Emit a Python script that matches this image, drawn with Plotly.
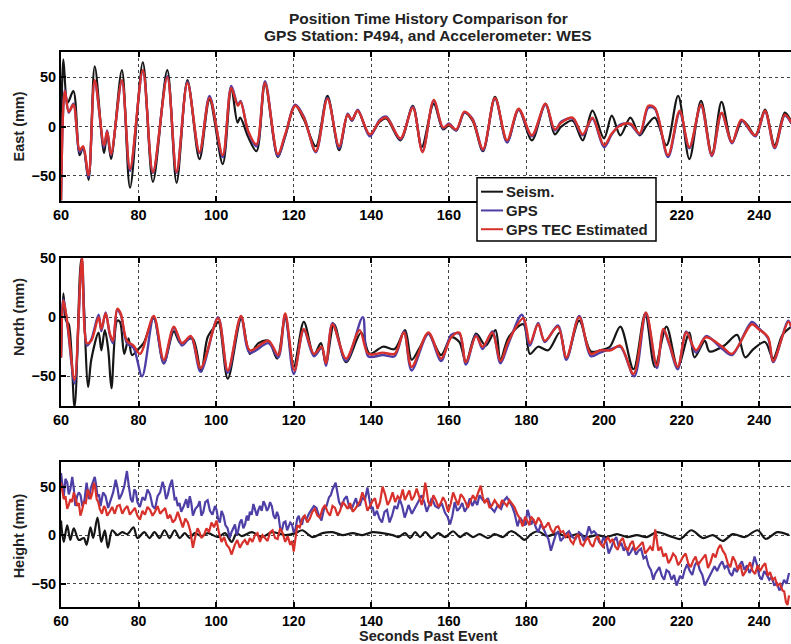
import plotly.graph_objects as go

# ---------------- East component (mm) ----------------
east_seism_t = [60.0, 60.6, 61.7, 63.2, 64.8, 65.7, 67.1, 68.7, 71.1, 71.9, 72.9, 75.7, 77.8, 81.1, 83.7,
                87.4, 89.8, 92.6, 95.7, 98.3, 101.7, 103.9, 105.5, 106.2, 108.3, 110.4, 112.6, 115.9, 117.8,
                120.4, 122.6, 125.7, 128.7, 131.7, 133.9, 135.0, 136.5, 139.6, 142.2, 143.9, 147.5, 150.7,
                153.0, 156.1, 158.5, 160.0, 161.9, 164.0, 166.1, 168.8, 171.9, 175.0, 178.0, 181.4, 184.9,
                187.3, 189.0, 191.9, 194.5, 197.0, 200.0, 202.0, 204.2, 206.8, 209.2, 211.0, 213.1, 216.1,
                219.1, 222.0, 225.0, 227.8, 230.3, 233.0, 235.6, 236.9, 239.0, 241.5, 244.0, 246.6, 248.3]
east_seism_v = [-75, 68, 24, 36, -29, -21, -54, 61, -27, -6, -33, 57, -62, 65, -56,
                57, -57, 47, -33, 27, -38, 39, 4, 9, -11, -25, 43, -31, -10,
                21, 7, -20, 31, -24, 12, 6, 16, -9, 5, 8, -14, 21,
                -21, 23, -3, 1, -4, 14, 6, -25, 30, -16, 17, -14, 23,
                -8, 0, 6, -14, 16, -12, 11, -9, 9, -9, 1, 9, -19,
                31, -33, 26, -28, 25, -16, 6, 2, -9, 17, -19, 14, 5]

east_tec_t = [60.0, 61.0, 62.0, 63.2, 64.8, 65.7, 67.1, 68.7, 71.1, 71.9, 72.9, 75.7, 77.8, 81.1, 83.7,
              87.4, 89.8, 92.6, 95.7, 98.3, 101.7, 103.9, 105.6, 106.3, 108.3, 110.4, 112.6, 115.9, 117.8,
              120.4, 122.6, 125.7, 128.7, 131.7, 133.9, 135.0, 136.5, 139.6, 142.2, 143.9, 147.5, 150.7,
              153.2, 156.1, 158.5, 160.0, 161.9, 164.0, 166.1, 168.8, 171.9, 175.0, 178.0, 181.4, 184.9,
              187.3, 189.0, 191.9, 194.5, 197.0, 200.0, 202.0, 204.2, 206.8, 209.2, 211.4, 213.1, 216.5,
              219.5, 222.0, 225.0, 227.8, 230.3, 233.0, 235.4, 239.0, 241.5, 244.0, 246.6, 248.3]
east_tec_v = [-75, 36, 15, 22, -24, -20, -49, 47, -19, -5, -28, 47, -43, 57, -46,
              50, -46, 44, -26, 29, -29, 39, 21, 25, -5, -18, 44, -28, -8,
              21, 9, -25, 28, -20, 12, 7, 16, -8, 6, 9, -12, 19,
              -26, 27, -1, 2, -3, 15, 7, -23, 29, -14, 18, -9, 23,
              -3, 4, 9, -8, 9, -19, -7, 1, 3, -7, 21, 19, -29,
              16, -21, 22, -29, 14, -16, 7, -9, 16, -21, 12, 4]

east_gps_t = [60.0, 61.0, 62.0, 63.2, 64.8, 65.7, 67.1, 68.7, 71.1, 71.9, 72.9, 75.7, 77.8, 81.1, 83.7,
              87.4, 89.8, 92.6, 95.7, 98.3, 101.7, 103.9, 105.6, 106.3, 108.3, 110.4, 112.6, 115.9, 117.8,
              120.4, 122.6, 125.7, 128.7, 131.7, 133.9, 135.0, 136.5, 139.6, 142.2, 143.9, 147.5, 150.7,
              153.2, 156.1, 158.5, 160.0, 161.9, 164.0, 166.1, 168.8, 171.9, 175.0, 178.0, 181.4, 184.9,
              187.3, 189.0, 191.9, 194.5, 197.0, 200.0, 202.0, 204.2, 206.8, 209.2, 211.4, 213.1, 216.5,
              219.5, 222.0, 225.0, 227.8, 230.3, 233.0, 235.4, 239.0, 241.5, 244.0, 246.6, 248.3]
east_gps_v = [-75, 37, 14, 23, -26, -21, -51, 46, -21, -4, -29, 46, -45, 56, -47,
              51, -47, 45, -27, 31, -31, 41, 22, 26, -6, -20, 46, -30, -9,
              22, 10, -26, 29, -22, 13, 6, 17, -10, 7, 10, -13, 20,
              -25, 26, -2, 3, -4, 14, 8, -24, 28, -16, 17, -10, 22,
              -4, 5, 8, -9, 8, -21, -8, 2, 2, -8, 19, 18, -31,
              14, -22, 21, -30, 13, -17, 6, -10, 15, -22, 11, 3]

# ---------------- North component (mm) ----------------
north_seism_t = [60.0, 60.6, 61.3, 62.0, 63.5, 65.2, 67.0, 67.8, 69.7, 70.4, 71.3, 72.2, 73.0, 74.5, 75.2,
                 76.3, 77.4, 78.3, 79.6, 81.3, 83.9, 86.5, 89.1, 90.8, 93.9, 96.1, 97.8, 99.6, 100.6,
                 103.0, 106.5, 108.7, 110.9, 113.5, 115.7, 117.8, 120.0, 122.6, 125.2, 127.0, 128.3,
                 130.4, 133.5, 137.4, 139.6, 143.0, 146.0, 148.7, 150.4, 152.6, 154.7, 158.0, 160.6,
                 162.7, 164.4, 167.0, 169.5, 172.0, 173.3, 175.4, 179.2, 180.9, 183.0, 185.6, 188.6,
                 190.3, 193.6, 196.6, 199.0, 201.5, 204.2, 207.6, 210.6, 213.1, 216.1, 219.0, 222.0,
                 223.3, 226.0, 227.2, 231.0, 234.3, 236.4, 238.5, 241.5, 243.6, 246.0, 248.3]
north_seism_v = [-34, 20, -3, -6, -76, 49, -59, -36, -13, -28, -11, -28, -60, -3, -4,
                 -31, -18, -32, -28, -22, -1, -39, -12, -22, -18, -46, -17, -8, -4,
                 -52, -1, -31, -22, -20, -35, -1, -42, -4, -32, -22, -39,
                 -6, -38, -13, -31, -25, -27, -11, -36, -25, -14, -32, -17,
                 -21, -38, -14, -24, -11, -36, -17, -6, -31, -25, -28, -13,
                 -35, -3, -29, -28, -25, -8, -44, 3, -42, -8, -42, -13,
                 -34, -20, -29, -24, -15, -34, -27, -21, -35, -15, -8]

north_tec_t = [60.0, 60.6, 61.7, 63.5, 65.4, 66.7, 67.8, 69.7, 70.4, 71.5, 72.6, 73.4, 74.5, 75.4, 77.0,
               78.7, 80.4, 83.9, 86.5, 89.1, 91.2, 93.5, 96.0, 100.5, 103.0, 106.4, 108.7, 113.5, 116.0,
               117.8, 120.2, 122.6, 125.2, 127.2, 128.3, 130.0, 133.5, 137.0, 139.2, 143.0, 146.0, 148.4,
               150.4, 154.7, 158.0, 160.6, 162.7, 164.4, 167.0, 168.7, 171.2, 173.3, 175.4, 179.2, 180.9,
               183.0, 184.7, 188.1, 190.3, 193.6, 196.6, 199.0, 201.7, 204.2, 207.6, 210.8, 213.6, 215.3,
               216.8, 219.0, 221.2, 223.7, 226.3, 230.5, 233.0, 238.1, 239.8, 242.3, 243.6, 247.5, 248.3]
north_tec_v = [-34, 14, -6, -53, 50, -22, -20, 0, -10, 3, -14, -20, 7, 3, -20,
               -24, -31, 1, -36, -8, -22, -16, -43, -1, -45, 1, -28, -20, -32,
               3, -45, -10, -31, -25, -39, -6, -35, -11, -31, -30, -31, -13,
               -42, -13, -35, -17, -13, -38, -16, -25, -13, -37, -20, -1, -22,
               -6, -20, -8, -34, 0, -31, -28, -28, -24, -48, 4, -41, -10,
               -22, -42, -13, -28, -17, -25, -31, -6, -10, -17, -37, -4, -8]

north_gps_t = [60.0, 60.6, 61.7, 63.5, 65.4, 66.7, 67.8, 69.7, 70.4, 71.5, 72.6, 73.4, 74.5, 75.4, 77.0,
               78.7, 80.9, 83.9, 86.5, 89.1, 91.2, 93.5, 96.0, 100.5, 103.0, 106.4, 108.7, 113.5, 116.0,
               117.8, 120.0, 122.6, 125.2, 127.2, 128.3, 130.0, 133.5, 137.8, 139.2, 143.0, 146.0, 148.4,
               150.4, 154.7, 158.0, 160.6, 162.7, 164.4, 167.0, 168.7, 171.2, 173.3, 175.4, 178.8, 180.9,
               183.0, 184.7, 188.1, 190.3, 193.6, 196.6, 199.0, 201.7, 204.2, 207.8, 210.8, 213.6, 215.3,
               216.8, 219.0, 221.2, 223.7, 226.3, 230.5, 233.0, 238.1, 239.8, 242.3, 243.6, 247.5, 248.3]
north_gps_v = [-34, 15, -8, -56, 48, -24, -19, 2, -12, 4, -15, -22, 6, 2, -22,
               -26, -50, 0, -39, -9, -24, -17, -46, 0, -47, 0, -30, -22, -34,
               2, -48, -11, -33, -26, -41, -5, -37, 0, -33, -32, -33, -12,
               -45, -14, -37, -15, -14, -40, -15, -27, -12, -39, -22, 2, -24,
               -5, -21, -7, -36, 1, -33, -30, -27, -25, -50, 3, -43, -11,
               -23, -44, -12, -30, -16, -27, -32, -4, -9, -18, -38, -3, -9]

# ---------------- Height component (mm) ----------------
height_seism_t = [60.0, 60.7, 61.6, 62.4, 63.3, 64.6, 65.9, 66.6, 67.6, 68.3, 69.4, 70.4, 71.3, 72.1,
                  73.2, 74.5, 75.8, 77.1, 78.7, 79.7, 81.5, 82.8, 84.1, 85.4, 86.7, 88.0, 89.3, 90.6,
                  91.9, 93.2, 94.5, 96.2, 97.9, 100.5, 102.3, 104.0, 105.3, 106.6, 109.2, 111.8, 114.4,
                  117.8, 120.4, 122.2, 124.8, 127.4, 130.0, 132.6, 135.2, 137.7, 140.3, 142.9, 145.5,
                  147.0, 148.7, 150.0, 151.3, 152.6, 153.9, 155.6, 157.3, 159.0, 161.1, 162.8, 164.5,
                  166.2, 167.9, 170.1, 171.8, 173.9, 176.0, 178.2, 179.5, 181.2, 182.9, 185.4, 188.0,
                  190.5, 193.1, 195.7, 198.2, 200.8, 203.3, 205.9, 208.5, 211.0, 213.6, 217.0, 219.6,
                  222.5, 225.5, 228.1, 230.6, 233.2, 236.2, 239.6, 241.7, 244.7, 247.7]
height_seism_v = [15, -7, 10, -5, 7, -5, -3, -10, 8, -3, 18, -7, 5, -13,
                  5, 0, 3, 1, 8, -3, 3, -3, 3, -3, 5, -3, 5, -3,
                  2, -3, 2, -1, 2, -2, 2, -7, 2, -1, 3, -2, 3,
                  0, 2, 5, -2, 2, 3, 0, 2, 0, 3, 2, 0,
                  -2, 2, -3, 3, -2, 3, -3, 2, -2, 4, -2, 2,
                  -2, 1, -3, 1, -2, 4, -1, -5, 1, 4, -1, 2,
                  -2, 1, -2, 0, -2, 1, -2, 0, -2, 3, -1, -4,
                  5, -3, 0, -6, 1, -2, 5, -4, 3, 0]

height_gps_t = [60.0, 60.7, 61.6, 62.4, 62.9, 63.7, 64.6, 65.5, 66.6, 67.2, 68.1, 68.7, 69.4, 70.2, 71.5,
                72.8, 74.1, 75.0, 76.3, 77.0, 78.0, 78.9, 79.7, 81.0, 82.3, 83.6, 84.9, 86.2, 87.1, 88.0,
                88.6, 89.3, 90.1, 91.0, 92.3, 93.2, 94.0, 95.3, 96.2, 97.2, 98.4, 99.7, 100.5, 101.4,
                102.4, 103.5, 104.4, 105.3, 106.1, 107.0, 107.9, 108.7, 109.6, 110.5, 111.3, 112.2, 113.1,
                113.9, 114.8, 115.7, 116.5, 117.4, 118.3, 119.1, 120.0, 120.9, 121.7, 122.6, 123.9, 125.2,
                126.5, 127.8, 129.1, 130.0, 130.8, 131.7, 133.0, 134.3, 135.6, 136.5, 137.7, 139.0, 139.9,
                140.8, 142.1, 143.4, 144.7, 146.0, 147.3, 148.6, 149.6, 151.3, 153.0, 154.3, 155.6, 157.3,
                159.0, 160.3, 161.5, 162.8, 164.1, 165.4, 166.7, 167.9, 169.2, 170.9, 172.6, 174.3, 175.6,
                176.9, 177.7, 179.0, 180.3, 181.2, 182.4, 183.7, 185.0, 186.3, 187.6, 188.8, 190.1, 191.8,
                193.5, 194.8, 196.1, 197.4, 198.7, 199.9, 201.2, 202.5, 203.8, 205.1, 206.3, 207.6, 208.9,
                210.2, 211.5, 212.7, 213.6, 214.9, 216.1, 217.4, 218.7, 219.6, 220.8, 222.1, 223.4, 224.7,
                226.0, 227.2, 228.5, 229.8, 231.1, 232.4, 233.6, 234.9, 236.2, 237.5, 238.8, 240.0, 241.3,
                242.6, 243.9, 245.2, 246.4, 247.7]
height_gps_v = [64, 40, 54, 47, 60, 30, 44, 30, 54, 37, 54, 60, 40, 30, 40,
                35, 57, 37, 50, 66, 37, 47, 34, 39, 47, 30, 40, 55, 37, 50,
                57, 37, 30, 24, 37, 40, 20, 30, 20, 34, 25, 30, 17, 25,
                10, -3, 7, 0, 13, 7, 20, 24, 32, 20, 30, 35, 25,
                34, 20, 24, 7, 13, 5, 13, 3, 17, 13, 20, 22, 30,
                20, 27, 39, 47, 54, 34, 37, 29, 34, 30, 39, 49, 27,
                20, 17, 24, 13, 30, 37, 18, 31, 28, 41, 24, 38, 28,
                23, 11, 34, 28, 24, 38, 36, 41, 34, 28, 31, 36, 34,
                23, 9, 14, 26, 11, 8, 11, 1, -16, 1, -6, 1, -2,
                3, -6, 9, 4, -7, -2, -19, -6, -12, -16, -21, -12, -16,
                -24, -32, -46, -37, -42, -36, -46, -52, -42, -36, -37, -31, -36,
                -52, -42, -32, -31, -34, -39, -34, -31, -36, -39, -22, -42, -37,
                -46, -52, -57, -46, -39]
# short-period scatter between the samples above
height_gps_fine_t = [60.35, 61.15, 62.0, 63.3, 64.15, 65.05, 66.05, 67.65, 69.05, 69.8, 70.85, 72.15, 73.45,
                     74.55, 75.65, 77.5, 78.45, 79.3, 80.35, 81.65, 82.95, 84.25, 85.55, 86.65, 87.55, 88.95,
                     89.7, 90.55, 91.65, 92.75, 93.6, 94.65, 95.75, 96.7, 97.8, 99.05, 100.1, 100.95, 101.9,
                     102.95, 103.95, 104.85, 105.7, 106.55, 107.45, 108.3, 109.15, 110.05, 110.9, 111.75,
                     112.65, 113.5, 114.35, 115.25, 116.1, 116.95, 117.85, 118.7, 119.55, 120.45, 121.3,
                     122.15, 123.25, 124.55, 125.85, 127.15, 128.45, 129.55, 131.25, 132.35, 133.65, 134.95,
                     136.05, 137.1, 138.35, 139.45, 140.35, 141.45, 142.75, 144.05, 145.35, 146.65, 147.95,
                     149.1, 150.45, 152.15, 153.65, 154.95, 156.45, 158.15, 159.65, 160.9, 162.15, 163.45,
                     164.75, 166.05, 167.3, 168.55, 170.05, 171.75, 173.45, 174.95, 176.25, 178.35, 179.65,
                     180.75, 181.8, 183.05, 184.35, 185.65, 186.95, 188.2, 189.45, 190.95, 192.65, 194.15,
                     195.45, 196.75, 198.05, 199.3, 200.55, 201.85, 203.15, 204.45, 205.7, 206.95, 208.25,
                     209.55, 210.85, 212.1, 213.15, 214.25, 215.5, 216.75, 218.05, 219.15, 220.2, 221.45,
                     222.75, 224.05, 225.35, 226.6, 227.85, 229.15, 230.45, 231.75, 233.0, 234.25, 235.55,
                     236.85, 238.15, 239.4, 240.65, 241.95, 243.25, 244.55, 245.8, 247.05]
height_gps_fine_v = [48, 58, 42, 48, 40, 41, 36, 48, 52, 42, 44, 28, 44,
                     49, 42, 50, 34, 45, 29, 36, 42, 27, 44, 48, 42, 46,
                     38, 33, 30, 28, 33, 27, 35, 24, 36, 21, 26, 13, 20,
                     7, 3, 11, 5, 16, 11, 15, 21, 27, 26, 25,
                     31, 28, 30, 17, 19, 5, 14, 9, 11, 6, 20,
                     11, 16, 26, 28, 15, 30, 41, 44, 29, 40, 27,
                     38, 31, 36, 40, 29, 25, 13, 26, 20, 27, 30,
                     24, 22, 35, 34, 31, 30, 33, 19, 20, 25, 33,
                     29, 30, 31, 37, 38, 24, 27, 39, 30, 18, 10,
                     20, 16, 3, 7, -4, -8, 4, -3, 4, -4, 1,
                     -1, 2, 1, -9, -6, -13, -2, -8, -12, -17, -20,
                     -14, -22, -36, -40, -33, -46, -38, -41, -47, -45, -30,
                     -41, -27, -41, -47, -38, -37, -27, -31, -42, -38, -27,
                     -31, -34, -30, -46, -41, -43, -49, -53, -50]

height_tec_t = [60.0, 60.7, 61.6, 62.4, 63.3, 64.2, 65.0, 65.9, 66.9, 67.6, 68.5, 69.2, 70.0, 71.1, 71.9,
                73.2, 74.5, 75.8, 77.1, 78.4, 79.7, 81.0, 82.3, 83.6, 84.9, 86.2, 87.5, 88.8, 90.1, 91.4,
                92.7, 94.0, 95.2, 96.2, 97.5, 98.8, 100.1, 101.4, 102.7, 104.0, 104.8, 106.1, 107.4,
                108.7, 110.0, 111.3, 112.6, 113.9, 115.2, 116.5, 117.8, 119.1, 120.0, 120.9, 122.2, 123.5,
                124.8, 126.1, 127.4, 128.7, 130.0, 131.3, 132.6, 133.9, 135.2, 136.5, 137.7, 139.0, 140.3,
                141.6, 142.9, 144.2, 145.5, 146.8, 148.1, 149.2, 150.4, 151.7, 153.0, 153.9, 154.7, 156.0,
                157.3, 158.5, 159.8, 161.1, 162.4, 163.7, 164.9, 166.2, 167.5, 168.2, 169.2, 170.5, 171.8,
                173.1, 174.3, 175.6, 176.9, 177.7, 179.0, 180.3, 181.2, 182.4, 183.7, 185.0, 186.3, 187.6,
                188.8, 190.1, 191.4, 192.7, 194.0, 195.2, 196.5, 197.8, 199.1, 200.4, 201.6, 202.9, 204.2,
                205.5, 206.8, 208.0, 209.3, 210.6, 211.9, 213.2, 214.0, 215.3, 216.6, 217.8, 219.1, 220.4,
                221.7, 223.0, 224.2, 225.5, 226.8, 228.1, 229.4, 230.6, 231.9, 233.2, 234.5, 235.8, 237.0,
                238.3, 239.6, 240.9, 242.2, 243.4, 244.7, 246.0, 246.9, 247.7]
height_tec_v = [54, 37, 27, 37, 44, 30, 20, 34, 47, 37, 54, 37, 27, 30, 20,
                29, 30, 22, 30, 25, 20, 25, 29, 20, 30, 25, 17, 13, 24, 8,
                13, -13, 7, -3, 7, 13, 15, -7, -10, -20, -10, -13, -5,
                -3, 0, -7, -3, 3, -3, 7, -7, -10, -17, 10, 17, 13,
                24, 20, 27, 24, 30, 20, 34, 27, 24, 32, 44, 25, 35,
                27, 50, 31, 44, 40, 47, 41, 36, 48, 31, 54, 34, 41,
                29, 39, 24, 44, 31, 39, 28, 41, 44, 51, 33, 28, 36,
                28, 33, 36, 29, 21, 9, 14, 19, 11, 14, 9, 6, 8,
                3, -2, -6, -2, -9, -6, -9, -4, -9, -6, -7, -12, -6,
                -12, -9, -16, -9, -19, -12, 6, -16, -22, -29, -19, -31, -22,
                -29, -26, -31, -24, -34, -19, -14, -16, -29, -22, -36, -42, -34,
                -37, -31, -32, -42, -46, -52, -57, -69, -62]
height_tec_fine_t = [60.35, 61.15, 62.0, 62.85, 63.75, 64.6, 65.45, 66.4, 67.25, 68.05, 68.85, 69.6, 70.55,
                     71.5, 72.55, 73.85, 75.15, 76.45, 77.75, 79.05, 80.35, 81.65, 82.95, 84.25, 85.55,
                     86.85, 88.15, 89.45, 90.75, 92.05, 93.35, 94.6, 95.7, 96.85, 98.15, 99.45, 100.75,
                     102.05, 103.35, 104.4, 105.45, 106.75, 108.05, 109.35, 110.65, 111.95, 113.25, 114.55,
                     115.85, 117.15, 118.45, 119.55, 120.45, 121.55, 122.85, 124.15, 125.45, 126.75,
                     128.05, 129.35, 130.65, 131.95, 133.25, 134.55, 135.85, 137.1, 138.35, 139.65,
                     140.95, 142.25, 143.55, 144.85, 146.15, 147.45, 148.65, 149.8, 151.05, 152.35,
                     153.45, 154.3, 155.35, 156.65, 157.9, 159.15, 160.45, 161.75, 163.05, 164.3, 165.55,
                     166.85, 168.7, 169.85, 171.15, 172.45, 173.7, 174.95, 176.25, 178.35, 179.65, 180.75,
                     181.8, 183.05, 184.35, 185.65, 186.95, 188.2, 189.45, 190.75, 192.05, 193.35, 194.6,
                     195.85, 197.15, 198.45, 199.75, 201.0, 202.25, 203.55, 204.85, 206.15, 207.4, 208.65,
                     209.95, 211.25, 212.55, 213.6, 214.65, 215.95, 217.2, 218.45, 219.75, 221.05, 222.35,
                     223.6, 224.85, 226.15, 227.45, 228.75, 230.0, 231.25, 232.55, 233.85, 235.15, 236.4,
                     237.65, 238.95, 240.25, 241.55, 242.8, 244.05, 245.35, 246.45, 247.3]
height_tec_fine_v = [44, 40, 31, 34, 38, 33, 26, 33, 43, 43, 48, 34, 22,
                     27, 24, 22, 31, 27, 21, 28, 16, 21, 26, 24, 22,
                     28, 21, 16, 15, 17, 4, -2, 3, 0, 3, 8, 2,
                     -2, -13, -15, -5, -8, -10, -7, 2, 0, -6, 5,
                     -4, 2, -1, -6, -2, 8, 20, 17, 27, 18,
                     31, 20, 28, 25, 31, 33, 27, 35, 37, 30,
                     38, 34, 42, 36, 34, 37, 36, 46, 40, 38,
                     40, 45, 30, 36, 33, 34, 32, 37, 42, 34, 35,
                     36, 40, 37, 31, 32, 36, 30, 33, 17, 19, 10,
                     16, 18, 7, 13, 2, 9, 4, 1, -9, 1, -11,
                     -2, -12, -1, -12, -2, -4, -15, -3, -16, -6, -13,
                     -7, -15, -16, -5, -12, -19, -25, -22, -27, -19, -33,
                     -22, -27, -20, -28, -23, -10, -20, -33, -27, -30, -38,
                     -28, -40, -37, -29, -38, -44, -50, -58, -72]

x_ticks = [60, 80, 100, 120, 140, 160, 180, 200, 220, 240]
# the key box sits over the 180 and 200 labels of the East panel
east_x_ticktext = ["60", "80", "100", "120", "140", "160", "", "", "220", "240"]
y_ticks = [-50, 0, 50]
series_names = ["Seism.", "GPS", "GPS TEC Estimated"]

BLACK = "#161616"
BLUE = "#4d3fa6"
RED = "#d8312c"
COLORS = [BLACK, BLUE, RED]
FONT = "Liberation Sans, Arial, sans-serif"
TEXT = "#222222"


def merged(t_main, v_main, t_fine, v_fine):
    pairs = sorted(zip(list(t_main) + list(t_fine), list(v_main) + list(v_fine)))
    return [p[0] for p in pairs], [p[1] for p in pairs]


h_gps_t, h_gps_v = merged(height_gps_t, height_gps_v, height_gps_fine_t, height_gps_fine_v)
h_tec_t, h_tec_v = merged(height_tec_t, height_tec_v, height_tec_fine_t, height_tec_fine_v)

fig = go.Figure()

panels = [
    ("x", "y", east_seism_t, east_seism_v, east_gps_t, east_gps_v, east_tec_t, east_tec_v, "spline", 2.4),
    ("x2", "y2", north_seism_t, north_seism_v, north_gps_t, north_gps_v, north_tec_t, north_tec_v, "spline", 2.4),
    ("x3", "y3", height_seism_t, height_seism_v, h_gps_t, h_gps_v, h_tec_t, h_tec_v, "linear", 2.2),
]
for xa, ya, st, sv, gt, gv, rt, rv, gshape, lw in panels:
    fig.add_trace(go.Scatter(x=st, y=sv, xaxis=xa, yaxis=ya, mode="lines", name=series_names[0],
                             line=dict(color=BLACK, width=2.2, shape="spline", smoothing=0.9)))
    fig.add_trace(go.Scatter(x=gt, y=gv, xaxis=xa, yaxis=ya, mode="lines", name=series_names[1],
                             line=dict(color=BLUE, width=lw, shape=gshape, smoothing=0.9)))
    fig.add_trace(go.Scatter(x=rt, y=rv, xaxis=xa, yaxis=ya, mode="lines", name=series_names[2],
                             line=dict(color=RED, width=lw, shape=gshape, smoothing=0.9)))

W, H = 791, 644
L = 61


def ydom(top_px, bottom_px):
    return [1 - bottom_px / H, 1 - top_px / H]


def px_x(px):
    return (px - L) / (W - L)


def px_y(py):
    return 1 - py / H


tickfont = dict(family=FONT, size=14.5, color="black", weight="bold")
xcommon = dict(range=[60, 248.2], tickvals=x_ticks, showline=True, linecolor="black", linewidth=2,
               mirror="ticks", ticks="inside", ticklen=5, tickwidth=1.5, tickcolor="black",
               showgrid=True, gridcolor="#444444", griddash="dot", gridwidth=1, zeroline=False,
               tickfont=tickfont)
ycommon = dict(tickvals=y_ticks, showline=True, linecolor="black", linewidth=2, mirror=False,
               ticks="inside", ticklen=5, tickwidth=1.5, tickcolor="black",
               showgrid=True, gridcolor="#444444", griddash="dot", gridwidth=1, zeroline=False,
               tickfont=tickfont)

doms = [ydom(45, 195), ydom(253, 403), ydom(460, 606.5)]
fig.update_layout(
    width=W, height=H,
    margin=dict(l=L, r=0, t=0, b=0),
    paper_bgcolor="white", plot_bgcolor="white",
    xaxis=dict(xcommon, anchor="y", ticktext=east_x_ticktext),
    yaxis=dict(ycommon, domain=doms[0], range=[-75, 75], anchor="x"),
    xaxis2=dict(xcommon, anchor="y2"),
    yaxis2=dict(ycommon, domain=doms[1], range=[-75, 50], anchor="x2"),
    xaxis3=dict(xcommon, anchor="y3", tickfont=dict(tickfont, size=14)),
    yaxis3=dict(ycommon, domain=doms[2], range=[-74, 75], anchor="x3"),
    showlegend=False,
)

# Boxed key in the lower part of the East panel (drawn above the axes)
key_left, key_right, key_top, key_bottom = 477, 656, 172, 236
fig.add_shape(type="rect", xref="paper", yref="paper", layer="above",
              x0=px_x(key_left), x1=px_x(key_right), y0=px_y(key_bottom), y1=px_y(key_top),
              fillcolor="white", line=dict(color="black", width=1.5))
for k, (name, color) in enumerate(zip(series_names, COLORS)):
    row_y = px_y(186 + 19 * k)
    fig.add_shape(type="line", xref="paper", yref="paper", layer="above",
                  x0=px_x(481), x1=px_x(503), y0=row_y, y1=row_y, line=dict(color=color, width=2))
    fig.add_annotation(xref="paper", yref="paper", showarrow=False, x=px_x(504), y=row_y,
                       xanchor="left", yanchor="middle", text=name,
                       font=dict(family=FONT, size=15, color=TEXT, weight="bold"))

annos = [
    dict(text="Position Time History Comparison for", x=px_x(428), y=px_y(11), size=15.5),
    dict(text="GPS Station: P494, and Accelerometer: WES", x=px_x(428), y=px_y(28), size=15.5),
    dict(text="Seconds Past Event", x=px_x(428), y=px_y(635.5), size=14.5),
    dict(text="East (mm)", x=px_x(19), y=px_y(120), textangle=-90, size=14.5),
    dict(text="North (mm)", x=px_x(19), y=px_y(313), textangle=-90, size=14.5),
    dict(text="Height (mm)", x=px_x(19), y=px_y(535), textangle=-90, size=14.5),
]
for a in annos:
    size = a.pop("size")
    fig.add_annotation(xref="paper", yref="paper", showarrow=False, xanchor="center", yanchor="middle",
                       font=dict(family=FONT, size=size, color=TEXT, weight="bold"), **a)

fig.write_html("out.html")
